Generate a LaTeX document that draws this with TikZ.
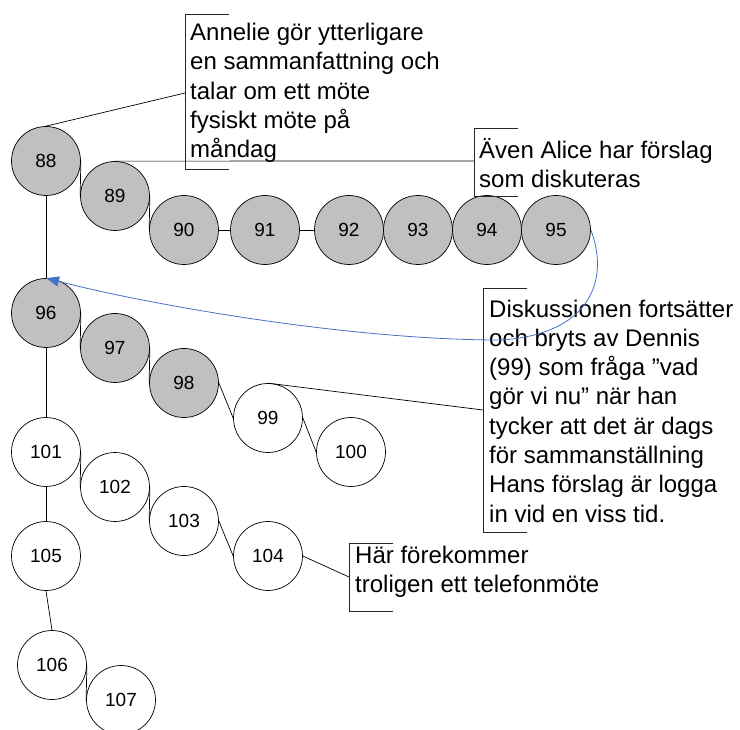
\documentclass[tikz,border=0pt]{standalone}
\usepackage{fontspec}
\setmainfont{Liberation Sans}
\usetikzlibrary{arrows.meta}
\definecolor{circfill}{HTML}{C0C0C0}
\definecolor{arrowblue}{HTML}{4472C4}
\tikzset{
  evt/.style={circle, draw=black, line width=0.7pt, minimum size=69pt, inner sep=0pt, font=\fontsize{19}{21}\selectfont},
  grayevt/.style={evt, fill=circfill},
  whiteevt/.style={evt, fill=white},
  link/.style={draw=black, line width=0.7pt},
  bracket/.style={draw=black!85, line width=0.8pt},
  note/.style={anchor=north west, inner sep=0pt, align=left, font=\fontsize{24}{29.3}\selectfont},
}
\begin{document}
\begin{tikzpicture}[x=1pt,y=-1pt]
\useasboundingbox (0,0) rectangle (740,730);
% event circles
\node[grayevt] (n88) at (46,161) {88};
\node[grayevt] (n89) at (115,196) {89};
\node[grayevt] (n90) at (184,230) {90};
\node[grayevt] (n91) at (265,230) {91};
\node[grayevt] (n92) at (349,230) {92};
\node[grayevt] (n93) at (418,230) {93};
\node[grayevt] (n94) at (487,230) {94};
\node[grayevt] (n95) at (556,230) {95};
\node[grayevt] (n96) at (46,313) {96};
\node[grayevt] (n97) at (115,348) {97};
\node[grayevt] (n98) at (184,383) {98};
\node[whiteevt] (n99) at (268,418) {99};
\node[whiteevt] (n100) at (351,452) {100};
\node[whiteevt] (n101) at (46,452) {101};
\node[whiteevt] (n102) at (115,487) {102};
\node[whiteevt] (n103) at (184,521) {103};
\node[whiteevt] (n104) at (268,556) {104};
\node[whiteevt] (n105) at (46,556) {105};
\node[whiteevt] (n106) at (52,665) {106};
\node[whiteevt] (n107) at (121,700) {107};
% links between events
\draw[link] (n88.east) -- (n89.west);
\draw[link] (n89.east) -- (n90.west);
\draw[link] (n90.east) -- (n91.west);
\draw[link] (n91.east) -- (n92.west);
\draw[link] (n92.east) -- (n93.west);
\draw[link] (n93.east) -- (n94.west);
\draw[link] (n94.east) -- (n95.west);
\draw[link] (n88.south) -- (n96.north);
\draw[link] (n96.east) -- (n97.west);
\draw[link] (n97.east) -- (n98.west);
\draw[link] (n98.east) -- (n99.west);
\draw[link] (n99.east) -- (n100.west);
\draw[link] (n96.south) -- (n101.north);
\draw[link] (n101.east) -- (n102.west);
\draw[link] (n102.east) -- (n103.west);
\draw[link] (n103.east) -- (n104.west);
\draw[link] (n101.south) -- (n105.north);
\draw[link] (n105.south) -- (n106.north);
\draw[link] (n106.east) -- (n107.west);
% callout 1
\draw[bracket] (229,14) -- (185,14) -- (185,169) -- (229,169);
\coordinate (c1) at (185,93);
\node[note] (t1) at (190,23) {Annelie gör ytterligare\\en sammanfattning och\\talar om ett möte\\fysiskt möte på\\måndag};
\draw[link] (n88.north) -- (c1);
% callout 2
\draw[bracket] (518,128) -- (474,128) -- (474,196) -- (518,196);
\coordinate (c2) at (474,161);
\node[note] (t2) at (479,138) {Även Alice har förslag\\som diskuteras};
\draw[link] (n89.north) -- (c2);
% callout 3
\draw[bracket] (527,288) -- (483,288) -- (483,532) -- (527,532);
\coordinate (c3) at (483,410);
\node[note] (t3) at (489,299.5) {Diskussionen fortsätter\\och bryts av Dennis\\(99) som fråga ”vad\\gör vi nu” när han\\tycker att det är dags\\för sammanställning\\Hans förslag är logga\\in vid en viss tid.};
\draw[link] (n99.north) -- (c3);
% callout 4
\draw[bracket] (393,543) -- (349,543) -- (349,611) -- (393,611);
\coordinate (c4) at (349,577);
\node[note] (t4) at (355,546) {Här förekommer\\troligen ett telefonmöte};
\draw[link] (n104.east) -- (c4);
% blue return arrow
\coordinate (m1) at (500,340);
\draw[arrowblue, line width=0.8pt] (n95.east) .. controls (610,280) and (590,335) .. (m1);
\draw[arrowblue, line width=0.8pt, -{Triangle[length=13pt,width=10pt]}] (m1) .. controls (350,340) and (150,305) .. (n96.north);
\end{tikzpicture}
\end{document}
